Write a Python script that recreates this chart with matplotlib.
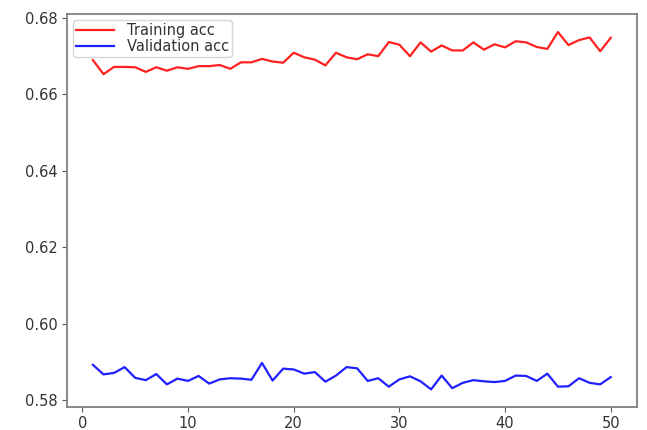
import matplotlib
matplotlib.use('Agg')
import matplotlib.pyplot as plt

epochs = list(range(1, 51))

train_acc = [0.6689, 0.6652, 0.6671, 0.6671, 0.6670, 0.6658, 0.6670, 0.6661, 0.6670, 0.6666,
             0.6673, 0.6673, 0.6676, 0.6666, 0.6683, 0.6683, 0.6692, 0.6685, 0.6682, 0.6708,
             0.6696, 0.6690, 0.6675, 0.6708, 0.6696, 0.6691, 0.6704, 0.6699, 0.6736, 0.6729,
             0.6699, 0.6735, 0.6711, 0.6727, 0.6714, 0.6714, 0.6735, 0.6716, 0.6730, 0.6722,
             0.6738, 0.6735, 0.6723, 0.6718, 0.6762, 0.6728, 0.6741, 0.6748, 0.6712, 0.6747]

val_acc = [0.5893, 0.5868, 0.5872, 0.5887, 0.5859, 0.5853, 0.5869, 0.5842, 0.5857, 0.5851,
           0.5864, 0.5844, 0.5855, 0.5858, 0.5857, 0.5854, 0.5898, 0.5852, 0.5883, 0.5881,
           0.5870, 0.5874, 0.5849, 0.5865, 0.5887, 0.5884, 0.5851, 0.5858, 0.5836, 0.5855,
           0.5863, 0.5850, 0.5829, 0.5865, 0.5832, 0.5846, 0.5853, 0.5850, 0.5848, 0.5851,
           0.5865, 0.5864, 0.5851, 0.5870, 0.5836, 0.5837, 0.5858, 0.5846, 0.5842, 0.5861]

fig = plt.figure(figsize=(6.47, 4.30), dpi=100)
ax = fig.add_axes([0.1036, 0.053, 0.8804, 0.914])

ax.plot(epochs, train_acc, color='#ff2020', linewidth=1.6, label='Training acc')
ax.plot(epochs, val_acc, color='#2020ff', linewidth=1.6, label='Validation acc')

ax.set_xticks([0, 10, 20, 30, 40, 50])
ax.set_yticks([0.58, 0.60, 0.62, 0.64, 0.66, 0.68])
ax.tick_params(labelsize=10.5, colors='0.35', labelcolor='0.2')
ax.tick_params(axis='x', pad=2.5)
for s in ax.spines.values():
    s.set_color('0.5')
    s.set_linewidth(1.3)

ax.legend(loc='upper left', fontsize=10.5, labelcolor='0.2', handlelength=2.6,
          labelspacing=0.05, borderpad=0.2, handletextpad=0.9, borderaxespad=0.4)

fig.savefig('out.png', dpi=100)
